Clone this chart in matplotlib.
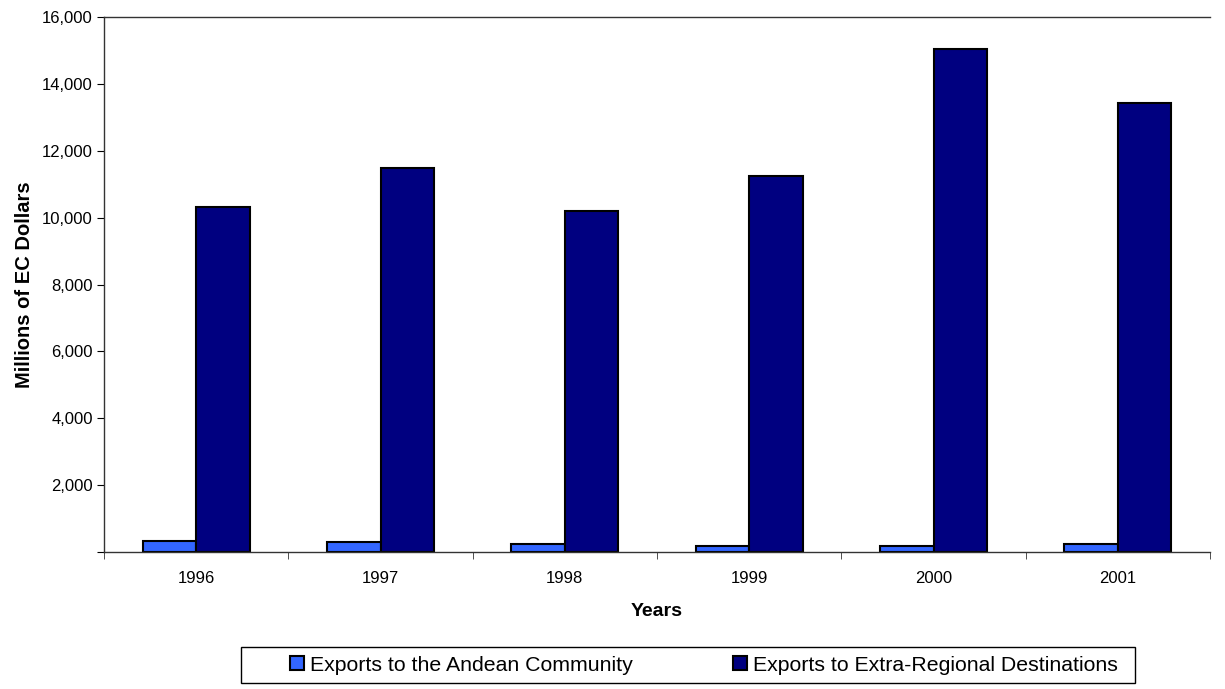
import matplotlib
matplotlib.use("Agg")
import matplotlib.pyplot as plt
import numpy as np
from matplotlib.patches import Rectangle
from matplotlib.ticker import FuncFormatter

plt.rcParams["font.family"] = ["Liberation Sans", "DejaVu Sans"]

years = ["1996", "1997", "1998", "1999", "2000", "2001"]
andean = [320, 300, 255, 180, 180, 240]
extra_regional = [10310, 11490, 10200, 11240, 15030, 13430]
series_names = ["Exports to the Andean Community", "Exports to Extra-Regional Destinations"]

fig = plt.figure(figsize=(12.25, 6.89), dpi=100)
ax = fig.add_axes([0.0849, 0.1988, 0.9029, 0.7765])

x = np.arange(len(years))
w = 0.29
ax.bar(x - w / 2, andean, w, color="#3366ff", edgecolor="black", linewidth=1.5,
       label=series_names[0])
ax.bar(x + w / 2, extra_regional, w, color="#000080", edgecolor="black", linewidth=1.5,
       label=series_names[1])

ax.set_xlim(-0.5, len(years) - 0.5)
ax.set_ylim(0, 16000)
ax.set_yticks(np.arange(0, 16001, 2000))
ax.yaxis.set_major_formatter(FuncFormatter(lambda v, p: "" if v == 0 else f"{int(v):,}"))
ax.set_xticks(x)
ax.set_xticklabels(years)
ax.set_xticks(np.arange(-0.5, len(years), 1.0), minor=True)
ax.tick_params(axis="x", which="major", length=0, pad=14, labelsize=12)
ax.tick_params(axis="x", which="minor", length=5, direction="out", color="#333333")
ax.tick_params(axis="y", length=5, direction="out", labelsize=12, pad=3)

for s in ["left", "bottom", "top"]:
    ax.spines[s].set_color("#333333")
    ax.spines[s].set_linewidth(1.0)
ax.spines["right"].set_visible(False)

ax.set_xlabel("Years", fontsize=14, fontweight="bold", labelpad=12)
ax.set_ylabel("Millions of EC Dollars", fontsize=14.5, fontweight="bold", labelpad=6)

# legend entries without frame, box drawn separately (Excel-style padding)
leg = fig.legend(loc="center left", bbox_to_anchor=(0.2367, 0.0348), ncol=2,
                 frameon=False, fontsize=15.3, handlelength=0.66, handleheight=0.66,
                 handletextpad=0.28, columnspacing=4.7, borderpad=0, borderaxespad=0)
fig.add_artist(Rectangle((0.1967, 0.0087), 0.7298, 0.0522, transform=fig.transFigure,
                         fill=False, edgecolor="black", linewidth=1.0))

fig.savefig("out.png", dpi=100)
